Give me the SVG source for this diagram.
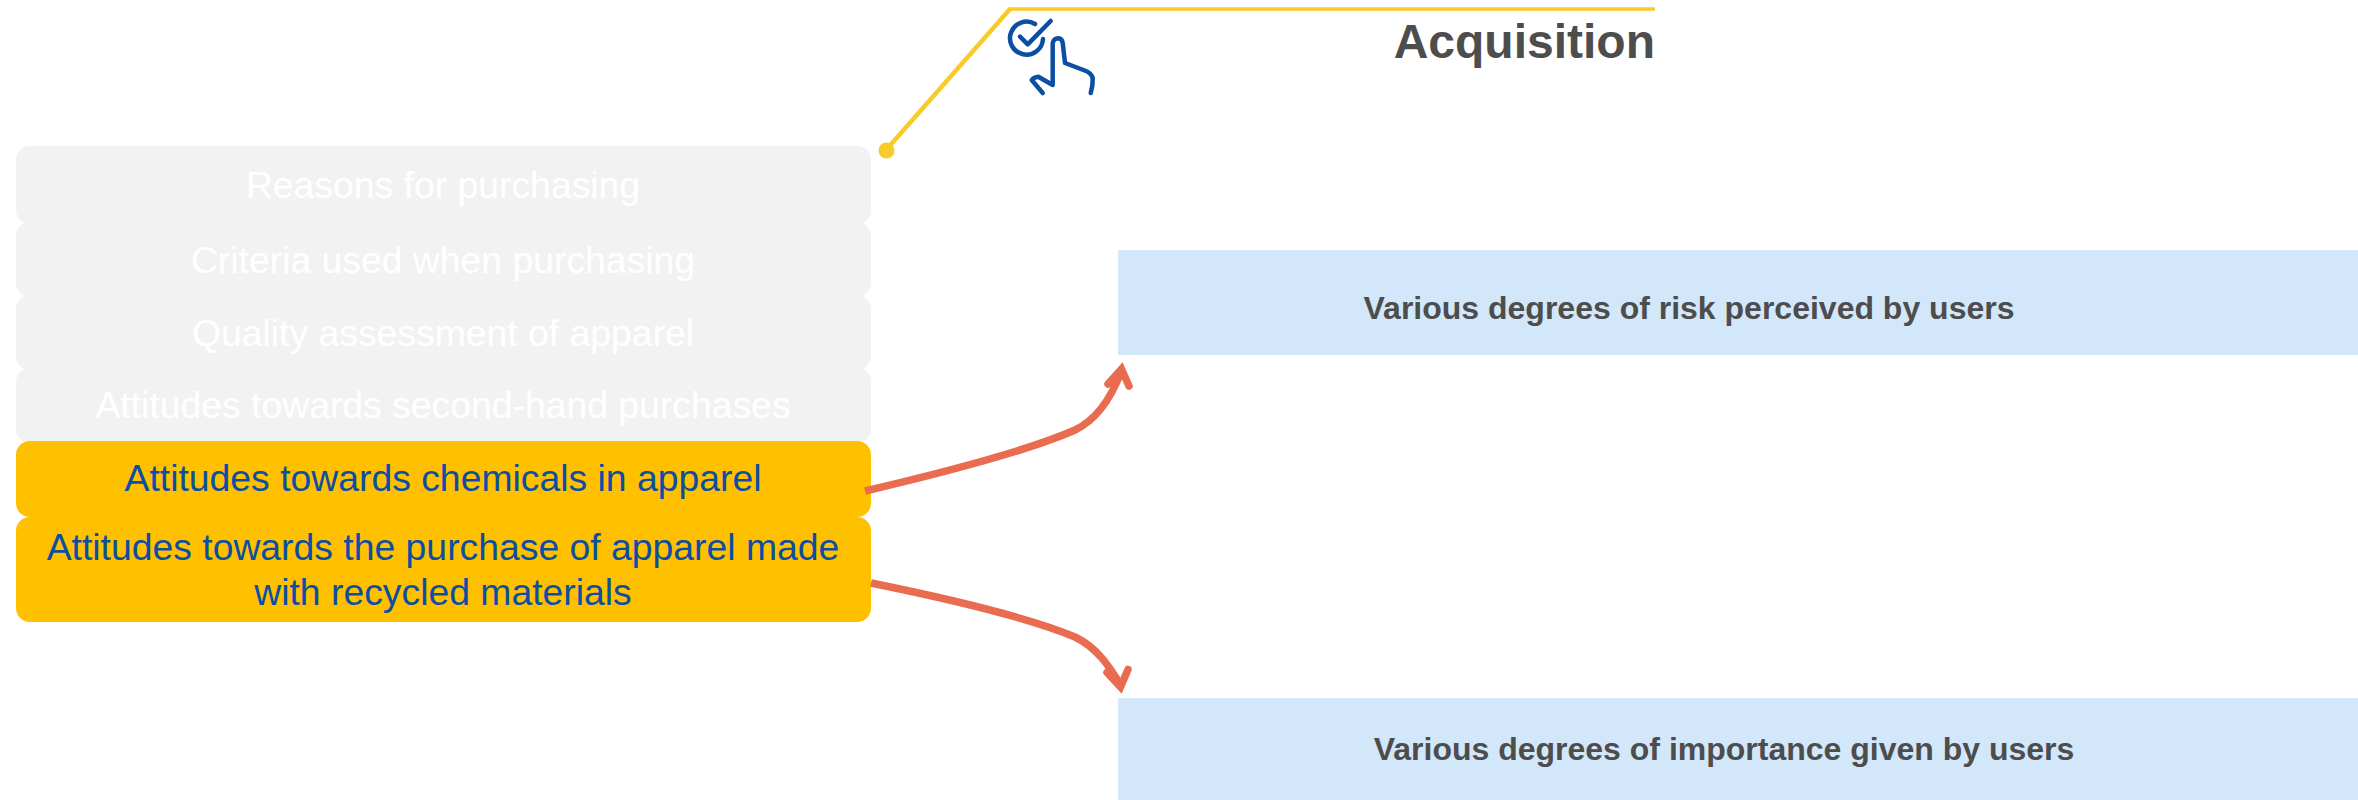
<svg xmlns="http://www.w3.org/2000/svg" width="2358" height="800" viewBox="0 0 2358 800">
<style>
text{font-family:"Liberation Sans",Arial,sans-serif}
.g{fill:#f2f2f2}
.o{fill:#ffc000}
.b{fill:#d2e7f9}
.gt{fill:#fff;font-size:37.330px;text-anchor:middle}
.ot{fill:#0b4ea2;font-size:37.330px;text-anchor:middle}
.bt{fill:#4d4d4d;font-size:32px;font-weight:700;text-anchor:middle}
.ar{fill:none;stroke:#e96c50;stroke-width:7.500;stroke-linecap:butt}
.ah{fill:none;stroke:#e96c50;stroke-width:7.500;stroke-linecap:round;stroke-linejoin:miter}
.ic{fill:none;stroke:#0b4ea2;stroke-width:4.500;stroke-linecap:round;stroke-linejoin:round}
</style>
<g id="header">
<path d="M886 150L1010 9" fill="none" stroke="#f9cb2a" stroke-width="4.500"/>
<path d="M1008 9H1655" fill="none" stroke="#f9cb2a" stroke-width="3.500"/>
<circle cx="886.500" cy="150.500" r="8" fill="#f9cb2a"/>
<text x="1655" y="58" font-size="48" font-weight="700" fill="#4d4d4d" text-anchor="end">Acquisition</text>
</g>
<g id="icon" class="ic">
<path d="M1043 39A16.500 16.500 0 1 1 1035 24"/>
<path d="M1020 36.700L1027.700 44.300L1050.700 21"/>
<path d="M1042.700 93L1031.700 80Q1034 77 1038.300 76.700L1052.700 85L1052.700 43Q1054 38.300 1058.300 38.300Q1062 38.500 1062.700 43L1065 63L1086 71Q1091 73 1092.700 78Q1093 86 1090.700 93"/>
</g>
<g id="n1"><rect class="g" x="16" y="146" width="855" height="78" rx="14"/><text class="gt" x="443" y="198">Reasons for purchasing</text></g>
<g id="n2"><rect class="g" x="16" y="222" width="855" height="75" rx="14"/><text class="gt" x="443" y="273">Criteria used when purchasing</text></g>
<g id="n3"><rect class="g" x="16" y="295" width="855" height="75" rx="14"/><text class="gt" x="443" y="346">Quality assessment of apparel</text></g>
<g id="n4"><rect class="g" x="16" y="368" width="855" height="75" rx="14"/><text class="gt" x="443" y="418">Attitudes towards second-hand purchases</text></g>
<g id="n5"><rect class="o" x="16" y="441" width="855" height="76" rx="14"/><text class="ot" x="443" y="491">Attitudes towards chemicals in apparel</text></g>
<g id="n6"><rect class="o" x="16" y="517" width="855" height="105" rx="14"/><text class="ot" x="443" y="560">Attitudes towards the purchase of apparel made</text><text class="ot" x="443" y="605">with recycled materials</text></g>
<g id="n7"><rect class="b" x="1118" y="250" width="1240" height="105"/><text class="bt" x="1689" y="319">Various degrees of risk perceived by users</text></g>
<g id="n8"><rect class="b" x="1118" y="698" width="1240" height="102"/><text class="bt" x="1724" y="760">Various degrees of importance given by users</text></g>
<g id="connectors">
<path class="ar" d="M865 491C950 471 1030 450 1075 430C1100 418 1113 393 1121 372"/>
<path class="ah" d="M1108 384L1121.500 369L1129 386"/>
<path class="ar" d="M871 583C950 599 1030 618 1075 637C1098 648 1110 668 1120 684"/>
<path class="ah" d="M1107 672.500L1120.500 687L1128 669.500"/>
</g>
</svg>
